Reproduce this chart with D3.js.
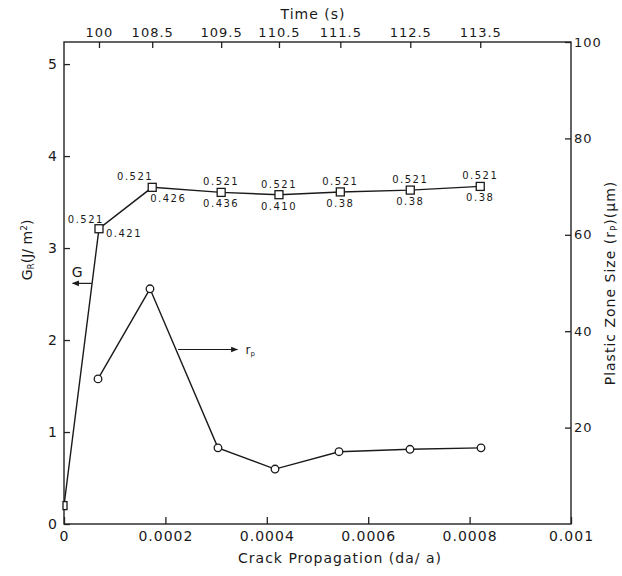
<!DOCTYPE html>
<meta charset="utf-8">
<style>
  body { margin: 0; background: #fff; }
  text { font-family: "DejaVu Sans", sans-serif; fill: #1a1a1a; }
  .frame { fill: none; stroke: #222; stroke-width: 1.4; }
  .axis path { display: none; }
  .axis line { stroke: #222; stroke-width: 1.3; }
  .axis text { font-size: 14px; letter-spacing: 1px; }
  .line { fill: none; stroke: #1a1a1a; stroke-width: 1.4; }
  .mark { fill: #fff; stroke: #1a1a1a; stroke-width: 1.3; }
  .val { font-size: 10px; letter-spacing: 1.5px; }
</style>
<body></body>
<script src="https://d3js.org/d3.v7.min.js"></script>
<script>
// G_R curve (squares) vs crack propagation
var crackX = [0, 0.000069, 0.000174, 0.000310, 0.000424, 0.000545, 0.000683, 0.000821];
var gR = [0.2, 3.21, 3.66, 3.605, 3.58, 3.61, 3.63, 3.67];
var topLabels = ["", "0.521", "0.521", "0.521", "0.521", "0.521", "0.521", "0.521"];
var bottomLabels = ["", "0.421", "0.426", "0.436", "0.410", "0.38", "0.38", "0.38"];

// plastic zone size (circles)
var rpX = [0.0000671, 0.0001696, 0.0003037, 0.0004162, 0.0005424, 0.0006824, 0.0008225];
var rp = [30.1, 48.8, 15.8, 11.4, 15.0, 15.5, 15.8];

// time axis on top, at the crack positions of points 1..7
var timeLabels = ["100", "108.5", "109.5", "110.5", "111.5", "112.5", "113.5"];

var xTicks = [0, 0.0002, 0.0004, 0.0006, 0.0008, 0.001];
var gTicks = [0, 1, 2, 3, 4, 5];
var rpTicks = [20, 40, 60, 80, 100];

var margin = {top: 42, right: 51, bottom: 52, left: 64},
    width = 622 - margin.left - margin.right,
    height = 576 - margin.top - margin.bottom;

var svg = d3.select("body").append("svg")
    .attr("width", 622)
    .attr("height", 576);

var defs = svg.append("defs");
defs.append("marker")
    .attr("id", "arrow")
    .attr("viewBox", "0 0 10 10")
    .attr("refX", 9).attr("refY", 5)
    .attr("markerWidth", 9).attr("markerHeight", 7)
    .attr("markerUnits", "userSpaceOnUse")
    .attr("orient", "auto")
    .append("path")
    .attr("d", "M0,1 L10,5 L0,9 Z")
    .attr("fill", "#1a1a1a");

var g = svg.append("g")
    .attr("transform", "translate(" + margin.left + "," + margin.top + ")");

var x = d3.scaleLinear().domain([0, 0.001]).range([0, width]);
var yG = d3.scaleLinear().domain([0, 5.24]).range([height, 0]);
var yR = d3.scaleLinear().domain([0, 100]).range([height, 0]);

// axes, ticks pointing inward
g.append("g")
    .attr("class", "axis")
    .attr("transform", "translate(0," + height + ")")
    .call(d3.axisBottom(x).tickValues(xTicks).tickSize(-7).tickPadding(7)
        .tickFormat(function (d) { return d === 0 ? "0" : String(+d.toFixed(4)); }));

g.append("g")
    .attr("class", "axis")
    .call(d3.axisLeft(yG).tickValues(gTicks).tickSize(-6).tickPadding(6).tickFormat(d3.format("d")));

g.append("g")
    .attr("class", "axis")
    .attr("transform", "translate(" + width + ",0)")
    .call(d3.axisRight(yR).tickValues(rpTicks).tickSize(-6).tickPadding(3).tickFormat(d3.format("d")))
    .selectAll("text").style("font-size", "13px");

g.append("g")
    .attr("class", "axis")
    .call(d3.axisTop(x).tickValues(crackX.slice(1)).tickSize(-6).tickPadding(5)
        .tickFormat(function (d, i) { return timeLabels[i]; }))
    .selectAll("text").style("font-size", "13px");

g.append("rect")
    .attr("class", "frame")
    .attr("width", width)
    .attr("height", height);

// axis titles
svg.append("text")
    .attr("x", 313).attr("y", 19)
    .attr("text-anchor", "middle")
    .style("font-size", "14px").style("letter-spacing", "1px")
    .text("Time (s)");

svg.append("text")
    .attr("x", 340).attr("y", 563)
    .attr("text-anchor", "middle")
    .style("font-size", "14px").style("letter-spacing", "1px")
    .text("Crack Propagation  (da/ a)");

var yl = svg.append("text")
    .attr("transform", "translate(32,250) rotate(-90)")
    .attr("text-anchor", "middle")
    .style("font-size", "14px");
yl.append("tspan").text("G");
yl.append("tspan").attr("baseline-shift", "-25%").style("font-size", "9px").text("R");
yl.append("tspan").text("(J/ m");
yl.append("tspan").attr("baseline-shift", "super").style("font-size", "9px").text("2");
yl.append("tspan").text(")");

var yr = svg.append("text")
    .attr("transform", "translate(615,283) rotate(-90)")
    .attr("text-anchor", "middle")
    .style("font-size", "14px").style("letter-spacing", "1px");
yr.append("tspan").text("Plastic Zone Size (r");
yr.append("tspan").attr("baseline-shift", "-25%").style("font-size", "9px").text("P");
yr.append("tspan").text(")(μm)");

// G_R line with squares
var gPts = crackX.map(function (d, i) { return [d, gR[i]]; });
g.append("path")
    .datum(gPts)
    .attr("class", "line")
    .attr("d", d3.line().x(function (d) { return x(d[0]); }).y(function (d) { return yG(d[1]); }));

g.selectAll(".sq")
    .data(gPts)
    .enter().append("rect")
    .attr("class", "mark")
    .attr("x", function (d, i) { return x(d[0]) - (i === 0 ? 1 : 4); })
    .attr("y", function (d) { return yG(d[1]) - 4; })
    .attr("width", function (d, i) { return i === 0 ? 4 : 8; })
    .attr("height", 8);

// value labels above / below squares
g.selectAll(".vt")
    .data(gPts)
    .enter().append("text")
    .attr("class", "val")
    .attr("x", function (d, i) { return x(d[0]) + (i === 1 ? 5 : i === 2 ? 1 : 0); })
    .attr("y", function (d, i) { return yG(d[1]) - (i === 1 ? 6 : 7); })
    .attr("text-anchor", function (d, i) { return i <= 2 ? "end" : "middle"; })
    .text(function (d, i) { return topLabels[i]; });

g.selectAll(".vb")
    .data(gPts)
    .enter().append("text")
    .attr("class", "val")
    .attr("x", function (d, i) { return x(d[0]) + (i === 1 ? 7 : i === 2 ? -2 : 0); })
    .attr("y", function (d, i) { return yG(d[1]) + (i === 1 ? 8 : 15); })
    .attr("text-anchor", function (d, i) { return i <= 2 ? "start" : "middle"; })
    .text(function (d, i) { return bottomLabels[i]; });

// r_p line with circles
var rPts = rpX.map(function (d, i) { return [d, rp[i]]; });
g.append("path")
    .datum(rPts)
    .attr("class", "line")
    .attr("d", d3.line().x(function (d) { return x(d[0]); }).y(function (d) { return yR(d[1]); }));

g.selectAll(".ci")
    .data(rPts)
    .enter().append("circle")
    .attr("class", "mark")
    .attr("cx", function (d) { return x(d[0]); })
    .attr("cy", function (d) { return yR(d[1]); })
    .attr("r", 3.8);

// curve identifiers
g.append("line")
    .attr("x1", x(0.0000546)).attr("x2", x(0.0000170))
    .attr("y1", yG(2.616)).attr("y2", yG(2.616))
    .attr("stroke", "#1a1a1a").attr("stroke-width", 1.2)
    .attr("marker-end", "url(#arrow)");
g.append("text")
    .attr("x", x(0.0000260)).attr("y", yG(2.616) - 6)
    .attr("text-anchor", "middle")
    .style("font-size", "14px")
    .text("G");

g.append("line")
    .attr("x1", x(0.000225)).attr("x2", x(0.000342))
    .attr("y1", yR(36.2)).attr("y2", yR(36.2))
    .attr("stroke", "#1a1a1a").attr("stroke-width", 1.2)
    .attr("marker-end", "url(#arrow)");
var rl = g.append("text")
    .attr("x", x(0.000358)).attr("y", yR(36.2) + 4)
    .style("font-size", "12px");
rl.append("tspan").text("r");
rl.append("tspan").attr("baseline-shift", "-30%").style("font-size", "7px").text("p");
</script>
